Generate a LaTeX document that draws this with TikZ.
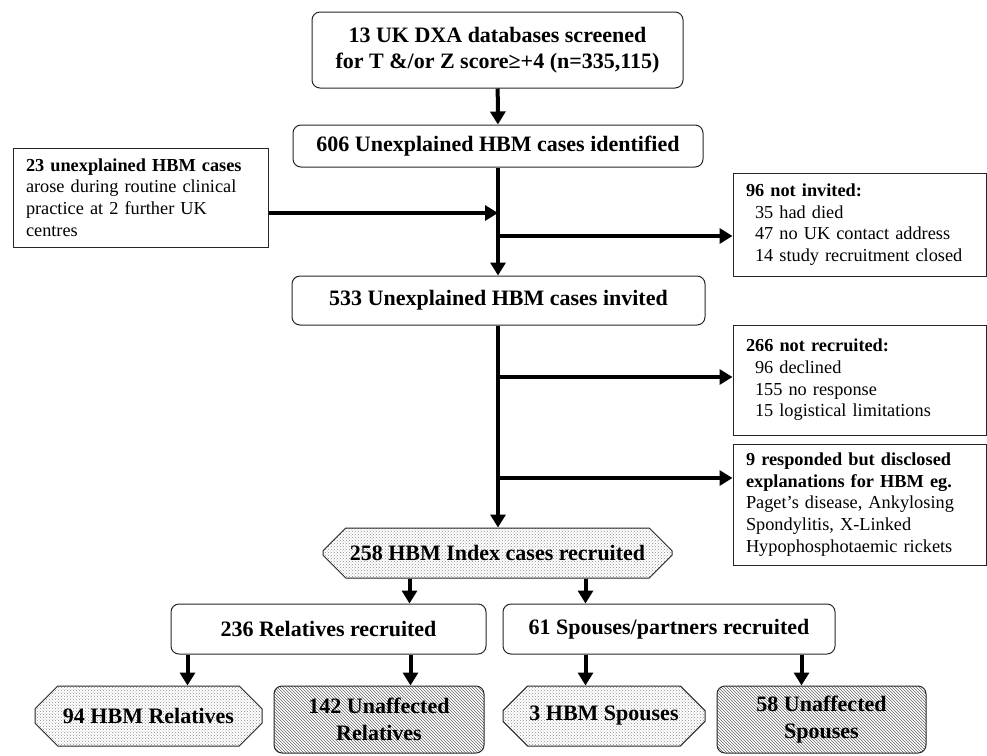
\documentclass[tikz,border=0pt]{standalone}
\usepackage{fontspec}
\setmainfont{Liberation Serif}
\usetikzlibrary{positioning,arrows.meta,shapes.misc,patterns}

\begin{document}
\begin{tikzpicture}[
  x=1pt, y=-1pt,
  >={Triangle[length=13pt,width=15pt]},
  flow/.style={line width=4pt,->},
  mainbox/.style={draw=black!85,line width=1pt,rounded corners=8pt,inner sep=0pt,
    font=\fontsize{22}{26.5}\selectfont\bfseries,align=center},
  sidebox/.style={draw=black!85,line width=1pt,inner xsep=13pt,inner ysep=0pt,
    font=\fontsize{18.3}{21.7}\selectfont,align=left},
  dotbox/.style={mainbox,sharp corners,chamfered rectangle,
    chamfered rectangle xsep=18pt,chamfered rectangle ysep=15pt,
    pattern=crosshatch dots,pattern color=black!45},
  hatchbox/.style={mainbox,pattern=north west lines,pattern color=black!60}]
\useasboundingbox (0,0) rectangle (987,755);

\node[mainbox,minimum width=371pt,minimum height=76pt] (screen) at (497.5,50) {13 UK DXA databases screened\\for T \&/or Z score≥+4 (n=335,115)};
\node[mainbox,minimum width=410pt,minimum height=42pt] (ident) at (498,146) {606 Unexplained HBM cases identified};
\node[sidebox,text width=229pt,minimum height=99pt] (extra) at (140.5,197.5) {\textbf{23 unexplained HBM cases}\\arose during routine clinical\\practice at 2 further UK\\centres};
\node[sidebox,text width=227pt,minimum height=103pt] (notinv) at (859.5,224.5) {\textbf{96 not invited:}\\\hspace*{9pt}35 had died\\\hspace*{9pt}47 no UK contact address\\\hspace*{9pt}14 study recruitment closed};
\node[mainbox,minimum width=413pt,minimum height=49pt] (invited) at (498.5,300.5) {533 Unexplained HBM cases invited};
\node[sidebox,text width=227pt,minimum height=110pt] (notrec) at (859.5,380) {\textbf{266 not recruited:}\\\hspace*{9pt}96 declined\\\hspace*{9pt}155 no response\\\hspace*{9pt}15 logistical limitations};
\node[sidebox,text width=227pt,minimum height=121pt] (expl) at (859.5,504.5) {\textbf{9 responded but disclosed}\\\textbf{explanations for HBM eg.}\\Paget's disease, Ankylosing\\Spondylitis, X-Linked\\Hypophosphotaemic rickets};
\node[dotbox,minimum width=349pt,minimum height=50pt] (index) at (497.5,553) {258 HBM Index cases recruited};
\node[mainbox,minimum width=315pt,minimum height=50pt] (rel) at (328.5,629) {236 Relatives recruited};
\node[mainbox,minimum width=332pt,minimum height=50pt] (spo) at (669,629) {61 Spouses/partners recruited};
\node[dotbox,minimum width=227pt,minimum height=60pt] (hbmrel) at (148.5,716) {94 HBM Relatives};
\node[hatchbox,minimum width=210pt,minimum height=67pt] (unrel) at (379,719.5) {142 Unaffected\\Relatives};
\node[dotbox,minimum width=202pt,minimum height=60pt] (hbmspo) at (604,716) {3 HBM Spouses};
\node[hatchbox,minimum width=209pt,minimum height=67pt] (unspo) at (821.5,719.5) {58 Unaffected\\Spouses};

% main column
\draw[flow] (screen) -- (ident);
\draw[flow] (ident.south) -- (ident.south |- invited.north);
\draw[flow] (invited.south -| ident.south) -- (index.north -| ident.south);

% side branches
\draw[flow] ([yshift=-15.5pt]extra.east) -- ([yshift=-15.5pt]extra.east -| ident.south);
\draw[flow] ([yshift=-11.5pt]notinv.west -| ident.south) -- ([yshift=-11.5pt]notinv.west);
\draw[flow] ([yshift=3pt]notrec.west -| ident.south) -- ([yshift=3pt]notrec.west);
\draw[flow] ([yshift=26.5pt]expl.west -| ident.south) -- ([yshift=26.5pt]expl.west);

% families
\draw[flow] ([xshift=-88pt]index.south) -- ([xshift=-88pt]index.south |- rel.north);
\draw[flow] ([xshift=88pt]index.south) -- ([xshift=88pt]index.south |- spo.north);
\draw[flow] ([xshift=17pt]rel.south west) -- ([xshift=17pt]rel.south west |- hbmrel.north);
\draw[flow] ([xshift=-76pt]rel.south east) -- ([xshift=-76pt]rel.south east |- unrel.north);
\draw[flow] ([xshift=83pt]spo.south west) -- ([xshift=83pt]spo.south west |- hbmspo.north);
\draw[flow] ([xshift=-34pt]spo.south east) -- ([xshift=-34pt]spo.south east |- unspo.north);
\end{tikzpicture}
\end{document}
